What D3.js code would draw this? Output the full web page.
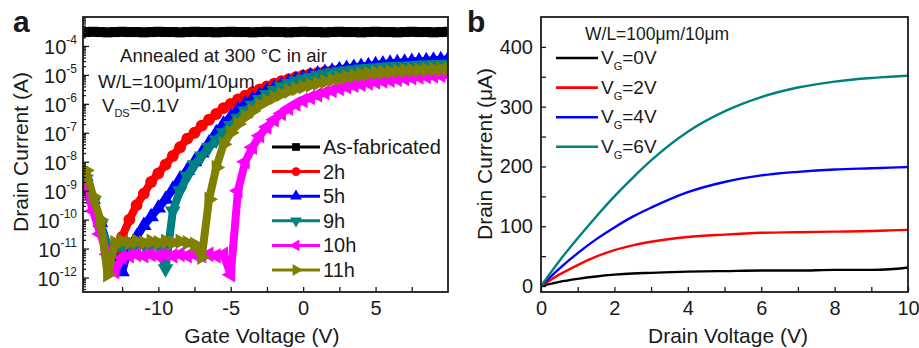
<!DOCTYPE html>
<html lang="en">
<head>
<meta charset="UTF-8">
<title>Transfer and output curves</title>
<script src="https://d3js.org/d3.v7.min.js"></script>
<style>
  body { margin: 0; background: #fff; }
  svg text { font-family: "Liberation Sans", Arial, sans-serif; fill: #1a1a1a; }
  .frame { fill: none; stroke: #1a1a1a; stroke-width: 1.8px; }
  .axis path { display: none; }
  .axis line { stroke: #1a1a1a; stroke-width: 1.3px; }
  .axis text { font-size: 20px; }
</style>
</head>
<body>
<script>

// ---- panel a : transfer curves (log10 of drain current in A) ----
const gateVoltage = [-15, -14.5, -14, -13.5, -13, -12.5, -12, -11.5, -11, -10.5, -10, -9.5, -9, -8.5, -8, -7.5,
  -7, -6.5, -6, -5.5, -5, -4.5, -4, -3.5, -3, -2.5, -2, -1.5, -1, -0.5, 0, 0.5, 1, 1.5, 2, 2.5, 3, 3.5, 4, 4.5,
  5, 5.5, 6, 6.5, 7, 7.5, 8, 8.5, 9, 9.5, 10];

const logAsFab = [-3.52, -3.51, -3.52, -3.53, -3.52, -3.51, -3.52, -3.52, -3.53, -3.52, -3.51, -3.52, -3.52,
  -3.53, -3.52, -3.51, -3.52, -3.52, -3.53, -3.52, -3.51, -3.52, -3.52, -3.53, -3.52, -3.51, -3.52, -3.52,
  -3.53, -3.52, -3.51, -3.52, -3.52, -3.53, -3.52, -3.51, -3.52, -3.52, -3.53, -3.52, -3.51, -3.52, -3.52,
  -3.53, -3.52, -3.51, -3.52, -3.52, -3.53, -3.52, -3.51];
const log2h = [-8.6, -9.4, -10.2, -11.0, -11.4, -10.6, -10.0, -9.5, -9.1, -8.7, -8.4, -8.1, -7.8, -7.5, -7.2,
  -7.0, -6.75, -6.55, -6.35, -6.15, -6.0, -5.85, -5.72, -5.6, -5.5, -5.4, -5.3, -5.22, -5.15, -5.08, -5.02,
  -4.97, -4.93, -4.89, -4.86, -4.83, -4.8, -4.78, -4.76, -4.74, -4.72, -4.7, -4.68, -4.67, -4.65, -4.64,
  -4.62, -4.61, -4.6, -4.58, -4.57];
const log5h = [-8.5, -9.3, -10.1, -10.9, -11.3, -11.8, -10.9, -10.6, -10.2, -9.9, -9.6, -9.3, -8.95, -8.6,
  -8.3, -8.0, -7.7, -7.35, -7.0, -6.7, -6.45, -6.2, -6.0, -5.85, -5.7, -5.55, -5.45, -5.35, -5.25, -5.17,
  -5.1, -5.03, -4.97, -4.92, -4.87, -4.82, -4.78, -4.74, -4.71, -4.68, -4.65, -4.62, -4.6, -4.58, -4.56,
  -4.54, -4.52, -4.51, -4.49, -4.48, -4.47];
const log9h = [-8.6, -9.4, -10.2, -10.9, -11.0, -10.9, -10.85, -10.9, -10.85, -10.9, -10.85, -11.7, -9.7,
  -9.0, -8.5, -8.1, -7.8, -7.5, -7.25, -7.0, -6.75, -6.5, -6.25, -6.05, -5.85, -5.68, -5.53, -5.4, -5.3,
  -5.21, -5.14, -5.08, -5.02, -4.97, -4.93, -4.89, -4.86, -4.83, -4.8, -4.78, -4.76, -4.74, -4.72, -4.71,
  -4.7, -4.68, -4.67, -4.66, -4.65, -4.64, -4.63];
const log10h = [-8.9, -9.7, -10.5, -11.2, -11.8, -11.3, -11.25, -11.2, -11.25, -11.2, -11.25, -11.2, -11.25,
  -11.2, -11.25, -11.2, -11.25, -11.2, -11.25, -11.2, -11.9, -9.0, -8.0, -7.5, -7.1, -6.8, -6.55, -6.33,
  -6.15, -6.0, -5.88, -5.78, -5.69, -5.61, -5.54, -5.47, -5.41, -5.36, -5.32, -5.28, -5.24, -5.21, -5.18,
  -5.15, -5.12, -5.1, -5.07, -5.05, -5.03, -5.01, -4.99];
const log11h = [-8.3, -9.2, -10.0, -11.9, -10.8, -10.75, -10.8, -10.75, -10.8, -10.75, -10.8, -10.75, -10.8,
  -10.75, -10.8, -10.85, -11.3, -9.3, -8.2, -7.4, -7.0, -6.7, -6.45, -6.25, -6.05, -5.9, -5.78, -5.66,
  -5.56, -5.48, -5.41, -5.35, -5.29, -5.23, -5.17, -5.12, -5.07, -5.03, -4.99, -4.96, -4.93, -4.91, -4.89,
  -4.87, -4.85, -4.84, -4.83, -4.82, -4.81, -4.8, -4.79];

const seriesNamesA = ["As-fabricated", "2h", "5h", "9h", "10h", "11h"];
const seriesLogsA = [logAsFab, log2h, log5h, log9h, log10h, log11h];
const colorsA = ["#000000", "#ff0000", "#0000ff", "#008080", "#ff00ff", "#808000"];
const gateTicks = [-12.5, -10, -7.5, -5, -2.5, 0, 2.5, 5, 7.5];
const decadeTicks = [-12, -11, -10, -9, -8, -7, -6, -5, -4];

// ---- panel b : output curves (drain current in uA) ----
const drainVoltage = [0, 0.5, 1, 1.5, 2, 2.5, 3, 4, 5, 6, 7, 8, 9, 9.5, 10];
const id0V = [0, 7, 12, 16, 19, 21, 22, 24, 25, 26, 26, 27, 27, 28, 31];
const id2V = [0, 19, 35, 49, 60, 68, 74, 82, 86, 89, 90, 91, 92, 93, 94];
const id4V = [0, 29, 55, 78, 98, 116, 131, 157, 174, 185, 191, 195, 197, 198, 199];
const id6V = [0, 42, 80, 116, 150, 181, 210, 258, 292, 316, 332, 342, 348, 350, 352];
const gateLabelsB = ["0V", "2V", "4V", "6V"];
const seriesB = [id0V, id2V, id4V, id6V];
const colorsB = ["#000000", "#ff0000", "#0000ff", "#008080"];

const svg = d3.select("body").append("svg")
  .attr("width", 919)
  .attr("height", 348);
svg.append("rect").attr("width", 919).attr("height", 348).attr("fill", "#fff");

// ================= panel a =================
const xA = d3.scaleLinear().domain([-15.2, 10]).range([83, 448]);
const yA = d3.scaleLog().domain([Math.pow(10, -12.5), 1e-3]).range([292, 17]);

const plotA = svg.append("g");
plotA.append("clipPath").attr("id", "clipA")
  .append("rect").attr("x", 83).attr("y", 17).attr("width", 365).attr("height", 275);

const markers = [d3.symbolSquare, d3.symbolCircle, d3.symbolTriangle, d3.symbolTriangle, d3.symbolTriangle, d3.symbolTriangle];
const rotations = [0, 0, 0, 180, -90, 90];
const markerSize = [100, 110, 105, 105, 105, 105];

const lineA = d3.line().x(d => xA(d.v)).y(d => yA(d.i));

const curves = plotA.append("g").attr("clip-path", "url(#clipA)");
seriesLogsA.forEach((logs, k) => {
  const pts = gateVoltage.map((v, j) => ({ v: v, i: Math.pow(10, logs[j]) }));
  const g = curves.append("g");
  g.append("path").datum(pts)
    .attr("d", lineA)
    .attr("fill", "none")
    .attr("stroke", colorsA[k])
    .attr("stroke-width", k === 0 ? 9 : 8)
    .attr("stroke-linejoin", "round");
  g.selectAll("path.m").data(pts).enter().append("path")
    .attr("class", "m")
    .attr("d", d3.symbol().type(markers[k]).size(markerSize[k]))
    .attr("transform", d => `translate(${xA(d.v)},${yA(d.i)}) rotate(${rotations[k]})`)
    .attr("fill", colorsA[k]);
});

// axes a (ticks point inward)
const minorA = [];
for (let e = -13; e <= -4; e++) {
  for (let m = 2; m <= 9; m++) {
    const val = m * Math.pow(10, e);
    if (val > yA.domain()[0] && val < 1e-3) minorA.push(val);
  }
}
plotA.append("g").attr("class", "axis").attr("transform", "translate(83,0)")
  .call(d3.axisLeft(yA).tickValues(decadeTicks.map(e => Math.pow(10, e))).tickSize(-6).tickFormat(""));
plotA.append("g").attr("class", "axis").attr("transform", "translate(83,0)")
  .call(d3.axisLeft(yA).tickValues(minorA).tickSize(-3).tickFormat(""));
plotA.append("g").attr("class", "axis").attr("transform", "translate(0,292)")
  .call(d3.axisBottom(xA).tickValues(gateTicks).tickSize(-5).tickPadding(9)
    .tickFormat(d => d % 5 === 0 ? String(d) : ""));

// decade labels with superscripts
decadeTicks.forEach(e => {
  const t = plotA.append("text")
    .attr("x", 77).attr("y", yA(Math.pow(10, e)) + 8)
    .attr("text-anchor", "end")
    .attr("font-size", 20);
  t.append("tspan").text("10");
  t.append("tspan").attr("font-size", 12).attr("dy", -10).text(String(e));
});

plotA.append("rect").attr("class", "frame").attr("x", 83).attr("y", 17).attr("width", 365).attr("height", 275);

// annotations
plotA.append("text").attr("x", 120).attr("y", 62).attr("font-size", 18.6).text("Annealed at 300 \u00B0C in air");
plotA.append("text").attr("x", 98).attr("y", 88).attr("font-size", 19).text("W/L=100\u03BCm/10\u03BCm");
const vds = plotA.append("text").attr("x", 102).attr("y", 112).attr("font-size", 18.6);
vds.append("tspan").text("V");
vds.append("tspan").attr("font-size", 11).attr("dy", 5).text("DS");
vds.append("tspan").attr("dy", -5).text("=0.1V");

// legend a
seriesNamesA.forEach((name, k) => {
  const y = 147 + k * 24.6;
  const g = plotA.append("g");
  g.append("line").attr("x1", 272).attr("x2", 320).attr("y1", y).attr("y2", y)
    .attr("stroke", colorsA[k]).attr("stroke-width", 3);
  g.append("path")
    .attr("d", d3.symbol().type(markers[k]).size(60))
    .attr("transform", `translate(296,${y}) rotate(${rotations[k]})`)
    .attr("fill", colorsA[k]);
  g.append("text").attr("x", 323).attr("y", y + 7).attr("font-size", 20).text(name);
});

plotA.append("text").attr("transform", "translate(28,152) rotate(-90)")
  .attr("text-anchor", "middle").attr("font-size", 21).text("Drain Current (A)");
plotA.append("text").attr("x", 262).attr("y", 343)
  .attr("text-anchor", "middle").attr("font-size", 21).text("Gate Voltage (V)");
svg.append("text").attr("x", 13).attr("y", 32).attr("font-size", 30).attr("font-weight", "bold").text("a");

// ================= panel b =================
const xB = d3.scaleLinear().domain([0, 10]).range([541, 908]);
const yB = d3.scaleLinear().domain([-10, 450]).range([292, 17]);
const plotB = svg.append("g");

const lineB = d3.line().x(d => xB(d.v)).y(d => yB(d.i)).curve(d3.curveMonotoneX);
seriesB.forEach((vals, k) => {
  const pts = drainVoltage.map((v, j) => ({ v: v, i: vals[j] }));
  plotB.append("path").datum(pts)
    .attr("d", lineB)
    .attr("fill", "none")
    .attr("stroke", colorsB[k])
    .attr("stroke-width", 2.4);
});

plotB.append("g").attr("class", "axis").attr("transform", "translate(541,0)")
  .call(d3.axisLeft(yB).tickValues([0, 50, 100, 150, 200, 250, 300, 350, 400]).tickSize(-5).tickPadding(8)
    .tickFormat(d => d % 100 === 0 ? String(d) : ""));
plotB.append("g").attr("class", "axis").attr("transform", "translate(0,292)")
  .call(d3.axisBottom(xB).tickValues([0, 1, 2, 3, 4, 5, 6, 7, 8, 9, 10]).tickSize(-5).tickPadding(9)
    .tickFormat(d => d % 2 === 0 ? String(d) : ""));

plotB.append("rect").attr("class", "frame").attr("x", 541).attr("y", 17).attr("width", 367).attr("height", 275);

plotB.append("text").attr("x", 585).attr("y", 40).attr("font-size", 17.5).text("W/L=100\u03BCm/10\u03BCm");
gateLabelsB.forEach((lab, k) => {
  const y = 58 + k * 29.6;
  plotB.append("line").attr("x1", 556).attr("x2", 598).attr("y1", y).attr("y2", y)
    .attr("stroke", colorsB[k]).attr("stroke-width", 2.6);
  const t = plotB.append("text").attr("x", 601).attr("y", y + 6).attr("font-size", 19);
  t.append("tspan").text("V");
  t.append("tspan").attr("font-size", 11).attr("dy", 6).text("G");
  t.append("tspan").attr("dy", -6).text("=" + lab);
});

plotB.append("text").attr("transform", "translate(492,154) rotate(-90)")
  .attr("text-anchor", "middle").attr("font-size", 21).text("Drain Current (\u03BCA)");
plotB.append("text").attr("x", 728).attr("y", 343)
  .attr("text-anchor", "middle").attr("font-size", 21).text("Drain Voltage (V)");
svg.append("text").attr("x", 467).attr("y", 32).attr("font-size", 30).attr("font-weight", "bold").text("b");

</script>
</body>
</html>
